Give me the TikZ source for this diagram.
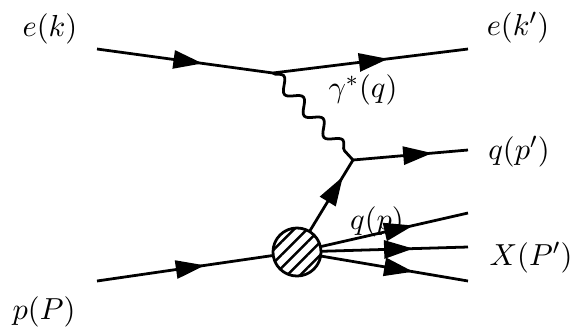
\documentclass[tikz,border=0pt]{standalone}
\usetikzlibrary{arrows.meta,decorations.pathmorphing,decorations.markings,patterns.meta}

\begin{document}
\begin{tikzpicture}[x=0.36pt, y=-0.36pt,
            line width=1pt,
            fermion/.style = {postaction={decorate, decoration={markings,
                    mark=at position #1 with {\arrow{Triangle[length=10.5pt,width=6.5pt]}}}}},
            photon/.style = {decorate, decoration={snake, amplitude=2.2pt, segment length=10.5pt}},
            blob/.style = {circle, draw, inner sep=0pt, minimum size=17.3pt, preaction={fill=white},
                    pattern={Lines[angle=45,distance=3.3pt,line width=0.9pt]}},
            lbl/.style = {font=\fontsize{11}{13}\selectfont, inner sep=0pt},
        ]
        \useasboundingbox (0,0) rectangle (573,329);

        \coordinate (ein)  at (97,49);
        \coordinate (ev)   at (273,73);
        \coordinate (eout) at (468,49);
        \coordinate (qv)   at (353,160);
        \coordinate (qout) at (468,150);
        \coordinate (pin)  at (97,281);
        \coordinate (bc)   at (297,252);

        \draw[fermion=0.60] (ein) -- (ev);
        \draw[fermion=0.59] (ev) -- (eout);
        \draw[photon] (ev) -- (qv);
        \draw[fermion=0.69] (qv) -- (qout);
        \draw[fermion=0.54] (pin) -- (bc);
        \draw[fermion=0.82] (bc) -- (qv);

        \foreach \y [count=\i] in {213,247,281}
            {
                \coordinate (x\i) at (468,\y);
                \draw[fermion=0.68] (bc) -- (x\i);
            }

        \node[blob] (blob) at (bc) {};

        \node[lbl] (lek)  at (50,29)   {$e(k)$};
        \node[lbl] (lekp) at (518,28)  {$e(k')$};
        \node[lbl] (lgam) at (363,90)  {$\gamma^*(q)$};
        \node[lbl] (lqpp) at (519,152) {$q(p')$};
        \node[lbl] (lqp)  at (377,222) {$q(p)$};
        \node[lbl] (lX)   at (531,258) {$X(P')$};
        \node[lbl] (lpP)  at (44,312)  {$p(P)$};
    \end{tikzpicture}
\end{document}
